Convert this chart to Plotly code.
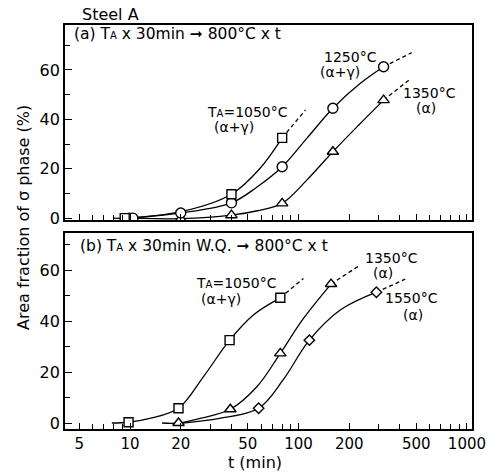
import plotly.graph_objects as go

# ---------------- data ----------------
# Panel (a): TA x 30min -> 800C x t   (markers)
a1050_t = [9.3, 40, 80]
a1050_v = [0, 9.7, 32.5]
a1250_t = [9.9, 10.4, 20, 40, 80, 160, 320]
a1250_v = [0, 0, 2.1, 6.2, 20.8, 44.5, 61.3]
a1350_t = [20, 40, 80, 160, 320]
a1350_v = [-0.3, 1.2, 6.0, 26.9, 47.8]

# curves of panel (a): solid part and dashed extension
a1050_curve_t = [8, 9.3, 20, 40, 59, 80]
a1050_curve_v = [0, 0, 2.6, 9.7, 20.1, 32.5]
a1050_dash_t = [80, 110]
a1050_dash_v = [32.5, 43.8]
a1250_curve_t = [10.4, 20, 40, 57, 80, 112, 160, 233, 320]
a1250_curve_v = [0, 2.1, 6.2, 12.7, 20.8, 32.3, 44.5, 54.6, 61.3]
a1250_dash_t = [320, 470]
a1250_dash_v = [61.3, 67.0]
a1350_curve_t = [10.6, 20, 40, 57, 80, 112, 160, 228, 320]
a1350_curve_v = [0, -0.2, 1.2, 3.0, 6.0, 15.4, 26.9, 37.7, 47.8]
a1350_dash_t = [320, 455]
a1350_dash_v = [47.8, 56.0]

# Panel (b): TA x 30min W.Q. -> 800C x t   (markers)
b1050_t = [9.8, 19.4, 39, 78]
b1050_v = [0.3, 5.8, 32.5, 49.1]
b1350_t = [19.4, 39.4, 78, 156]
b1350_v = [0, 5.4, 27.3, 54.5]
b1550_t = [58, 116, 290]
b1550_v = [5.8, 32.5, 51.3]

b1050_curve_t = [7.8, 9.8, 13.1, 19.4, 27.3, 39, 54, 78]
b1050_curve_v = [0, 0.3, 1.8, 5.8, 18.2, 32.5, 42.4, 49.1]
b1050_dash_t = [78, 107]
b1050_dash_v = [49.1, 56.7]
b1350_curve_t = [15.5, 19.4, 26, 39.4, 56.6, 78, 107, 156]
b1350_curve_v = [0, 0, 1.8, 5.4, 14.2, 27.3, 41.0, 54.5]
b1350_dash_t = [156, 233]
b1350_dash_v = [54.5, 62.0]
b1550_curve_t = [20.5, 34, 58, 81, 116, 177, 290]
b1550_curve_v = [0, 1.8, 5.8, 16.9, 32.5, 44.3, 51.3]
b1550_dash_t = [290, 430]
b1550_dash_v = [51.3, 56.4]

x_tickvals = [5, 10, 20, 50, 100, 200, 500, 1000]
x_ticktext = ["5", "10", "20", "50", "100", "200", "500", "1000"]
x_minor = [6, 7, 8, 9, 30, 40, 60, 70, 80, 90, 300, 400, 600, 700, 800, 900]
y_tickvals = [0, 20, 40, 60]
y_minor = [10, 30, 50, 70]

# ---------------- figure ----------------
W, H = 495, 472
L, R, T, B = 65, 23, 25, 43
FONT = "DejaVu Sans"


def px(x):
    return (x - L) / (W - L - R)


def py(y):
    return (H - B - y) / (H - T - B)


fig = go.Figure()


def curve(t, v, xa, ya, dash="solid"):
    fig.add_trace(go.Scatter(x=t, y=v, mode="lines", xaxis=xa, yaxis=ya,
                             line=dict(color="black", width=1.3, dash=dash,
                                       shape="spline", smoothing=1.0),
                             showlegend=False, hoverinfo="skip"))


def marks(t, v, xa, ya, symbol, size):
    fig.add_trace(go.Scatter(x=t, y=v, mode="markers", xaxis=xa, yaxis=ya,
                             marker=dict(symbol=symbol, size=size, color="white",
                                         line=dict(color="black", width=1.4)),
                             showlegend=False))


dash = "4px,3px"
# panel (a) on x2/y2
curve(a1050_curve_t, a1050_curve_v, "x2", "y2")
curve(a1050_dash_t, a1050_dash_v, "x2", "y2", dash)
curve(a1250_curve_t, a1250_curve_v, "x2", "y2")
curve(a1250_dash_t, a1250_dash_v, "x2", "y2", dash)
curve(a1350_curve_t, a1350_curve_v, "x2", "y2")
curve(a1350_dash_t, a1350_dash_v, "x2", "y2", dash)
marks(a1350_t, a1350_v, "x2", "y2", "triangle-up", 10)
marks(a1250_t, a1250_v, "x2", "y2", "circle", 10)
marks(a1050_t, a1050_v, "x2", "y2", "square", 9)

# panel (b) on x/y
curve(b1050_curve_t, b1050_curve_v, "x", "y")
curve(b1050_dash_t, b1050_dash_v, "x", "y", dash)
curve(b1350_curve_t, b1350_curve_v, "x", "y")
curve(b1350_dash_t, b1350_dash_v, "x", "y", dash)
curve(b1550_curve_t, b1550_curve_v, "x", "y")
curve(b1550_dash_t, b1550_dash_v, "x", "y", dash)
marks(b1050_t, b1050_v, "x", "y", "square", 9)
marks(b1350_t, b1350_v, "x", "y", "triangle-up", 10)
marks(b1550_t, b1550_v, "x", "y", "diamond", 8)

xcommon = dict(type="log", range=[0.614, 3.03], showgrid=False, zeroline=False,
               showline=True, linecolor="black", linewidth=1.8, mirror=True,
               ticks="inside", ticklen=6, tickwidth=1.2, tickcolor="black",
               tickvals=x_tickvals, ticktext=x_ticktext,
               minor=dict(ticks="inside", ticklen=5, tickwidth=1.2,
                          tickcolor="black", tickvals=x_minor, showgrid=False),
               tickfont=dict(family=FONT, size=15, color="black"))
ycommon = dict(showgrid=False, zeroline=False, showline=True, linecolor="black",
               linewidth=1.8, mirror=True, ticks="inside", ticklen=7,
               tickwidth=1.2, tickcolor="black", tickvals=y_tickvals,
               minor=dict(ticks="inside", ticklen=5, tickwidth=1.2,
                          tickcolor="black", tickvals=y_minor, showgrid=False),
               tickfont=dict(family=FONT, size=16, color="black"))

fig.update_layout(
    width=W, height=H, margin=dict(l=L, r=R, t=T, b=B, autoexpand=False),
    paper_bgcolor="white", plot_bgcolor="white",
    font=dict(family=FONT, size=15, color="black"),
    xaxis=dict(**xcommon, anchor="y", domain=[0, 1]),
    xaxis2=dict(**xcommon, anchor="y2", domain=[0, 1], matches="x",
                showticklabels=False),
    yaxis=dict(**ycommon, anchor="x", domain=[0, 0.485], range=[-2.35, 74.5]),
    yaxis2=dict(**ycommon, anchor="x2", domain=[0.517, 1], range=[-0.8, 78.2]),
)

TA = "T<span style='font-size:10px'>A</span>"
ann = [
    ("Steel A", 110, 15, "center", 16),
    (f"(a) {TA} x 30min ➞ 800°C x t", 72, 34, "left", 15.5),
    (f"{TA}=1050°C", 247, 112, "center", 14),
    ("(α+γ)", 234, 127, "center", 14),
    ("1250°C", 350, 57, "center", 14),
    ("(α+γ)", 340, 72, "center", 14),
    ("1350°C", 429, 93, "center", 14),
    ("(α)", 426, 108, "center", 14),
    (f"(b) {TA} x 30min W.Q. ➞ 800°C x t", 78, 246, "left", 15.5),
    (f"{TA}=1050°C", 236, 283, "center", 14),
    ("(α+γ)", 221, 299, "center", 14),
    ("1350°C", 391, 258, "center", 14),
    ("(α)", 383, 273, "center", 14),
    ("1550°C", 411, 298, "center", 14),
    ("(α)", 413, 315, "center", 14),
    ("t (min)", 255, 462, "center", 16),
]
for text, x, y, anchor, size in ann:
    fig.add_annotation(text=text, x=px(x), y=py(y), xref="paper", yref="paper",
                       xanchor=anchor, yanchor="middle", showarrow=False,
                       font=dict(family=FONT, size=size, color="black"))

fig.add_annotation(text="Area fraction of σ phase (%)", x=px(23), y=py(218),
                   xref="paper", yref="paper", textangle=-90, showarrow=False,
                   xanchor="center", yanchor="middle",
                   font=dict(family=FONT, size=16, color="black"))

fig.write_html("out.html", config={"displayModeBar": False},
               post_script="document.body.style.margin='0px';")
